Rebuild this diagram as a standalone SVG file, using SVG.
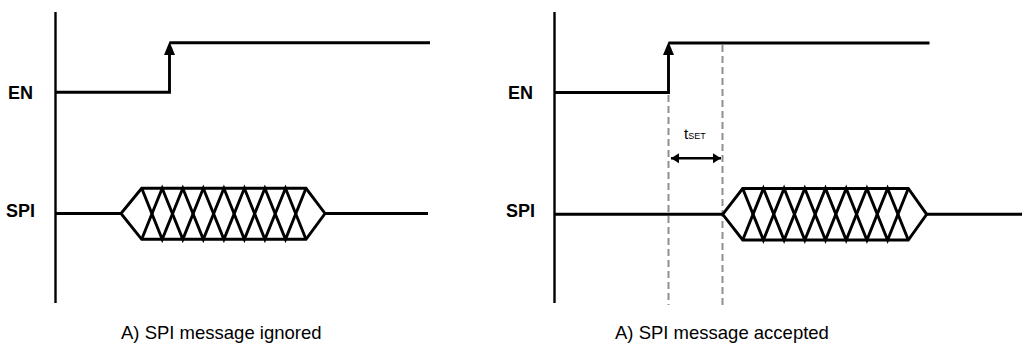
<svg xmlns="http://www.w3.org/2000/svg" width="1022" height="343" viewBox="0 0 1022 343">
<style>
.ax{stroke:#000;stroke-width:2.4;fill:none}
.sig{stroke:#000;stroke-width:2.9;fill:none;stroke-linejoin:miter}
.dash{stroke:#8f8f8f;stroke-width:2;stroke-dasharray:7 4;fill:none}
.lbl{font-family:"Liberation Sans",Arial,sans-serif;font-weight:bold;font-size:18px;fill:#000}
.cap{font-family:"Liberation Sans",Arial,sans-serif;font-size:18.5px;fill:#000}
.t{font-family:"Liberation Sans",Arial,sans-serif;fill:#000}
</style>
<defs>
<marker id="ah" viewBox="0 0 8 10" refX="8" refY="5" markerWidth="8" markerHeight="10" markerUnits="userSpaceOnUse" orient="auto-start-reverse">
<path d="M0,0 L8,5 L0,10 Z" fill="#000"/>
</marker>
</defs>
<rect width="1022" height="343" fill="#fff"/>

<g id="panel-a">
<g id="axis-a"><line class="ax" x1="55.5" y1="12" x2="55.5" y2="303"/></g>
<g id="label-en-a"><text class="lbl" x="8" y="99">EN</text></g>
<g id="label-spi-a"><text class="lbl" x="6" y="216.5">SPI</text></g>
<g id="en-a">
<path class="sig" d="M55.5,92.3 H169.5 V55"/>
<line class="sig" x1="169.5" y1="42.8" x2="430" y2="42.8"/>
<path d="M164,55 L169.5,41.6 L175,55 Z" fill="#000"/>
</g>
<g id="spi-a">
<line class="sig" x1="55.5" y1="213.5" x2="121" y2="213.5"/>
<path class="sig" d="M121,213.5 L141.7,188.3 H306 L325,213.5 L306,239.3 H141.7 Z"/>
<path class="sig" d="M141.7,188.3 L162.2,239.3 L182.8,188.3 L203.3,239.3 L223.9,188.3 L244.4,239.3 L264.9,188.3 L285.5,239.3 L306,188.3"/>
<path class="sig" d="M141.7,239.3 L162.2,188.3 L182.8,239.3 L203.3,188.3 L223.9,239.3 L244.4,188.3 L264.9,239.3 L285.5,188.3 L306,239.3"/>
<line class="sig" x1="325" y1="213.5" x2="428" y2="213.5"/>
</g>
<g id="caption-a"><text class="cap" x="121" y="338.5">A) SPI message ignored</text></g>
</g>

<g id="panel-b">
<g id="axis-b"><line class="ax" x1="554.5" y1="12" x2="554.5" y2="303"/></g>
<g id="label-en-b"><text class="lbl" x="508" y="99">EN</text></g>
<g id="label-spi-b"><text class="lbl" x="506" y="216.5">SPI</text></g>
<g id="connectors">
<line class="dash" x1="668.5" y1="95" x2="668.5" y2="305"/>
<line class="dash" x1="722.5" y1="45" x2="722.5" y2="305"/>
<line stroke="#000" stroke-width="2.4" x1="671" y1="158.3" x2="721" y2="158.3" marker-start="url(#ah)" marker-end="url(#ah)"/>
</g>
<g id="en-b">
<path class="sig" d="M554.5,92.5 H668.5 V55"/>
<line class="sig" x1="668.5" y1="43" x2="929.5" y2="43"/>
<path d="M663,55 L668.5,41.8 L674,55 Z" fill="#000"/>
</g>
<g id="label-tset"><text class="t" x="684" y="139" font-size="15">t<tspan font-size="9">SET</tspan></text></g>
<g id="spi-b">
<line class="sig" x1="554.5" y1="214.3" x2="722.7" y2="214.3"/>
<path class="sig" d="M722.7,214.3 L742.7,188.5 H908.3 L926.7,214.3 L908.3,240 H742.7 Z"/>
<path class="sig" d="M742.7,188.5 L763.4,240 L784.1,188.5 L804.8,240 L825.5,188.5 L846.2,240 L866.9,188.5 L887.6,240 L908.3,188.5"/>
<path class="sig" d="M742.7,240 L763.4,188.5 L784.1,240 L804.8,188.5 L825.5,240 L846.2,188.5 L866.9,240 L887.6,188.5 L908.3,240"/>
<line class="sig" x1="926.7" y1="214.3" x2="1022" y2="214.3"/>
</g>
<g id="caption-b"><text class="cap" x="615" y="338.5">A) SPI message accepted</text></g>
</g>
</svg>
